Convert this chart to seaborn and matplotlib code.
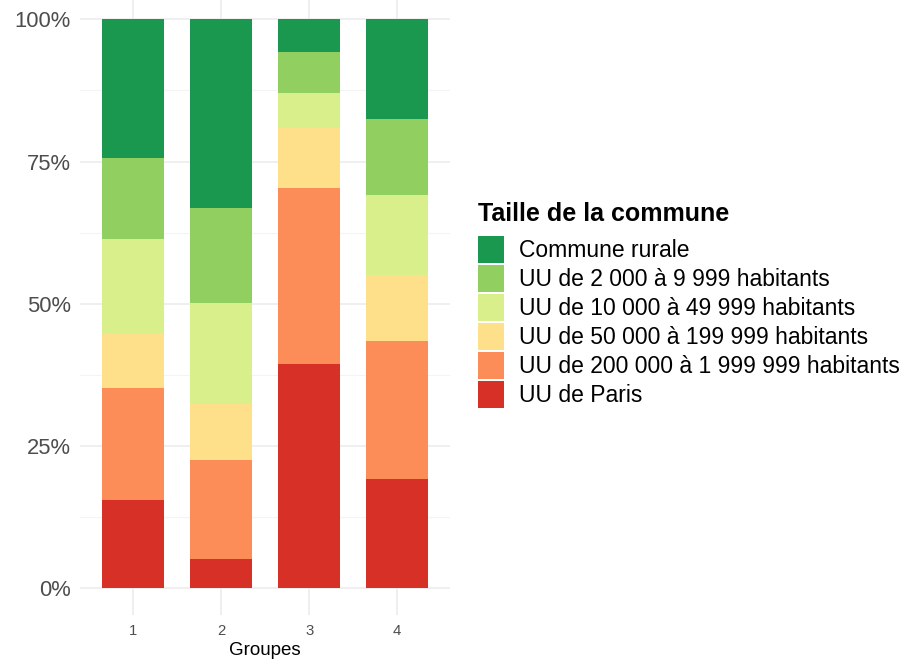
import matplotlib
matplotlib.use("Agg")
import matplotlib.pyplot as plt
from matplotlib.patches import Patch
from matplotlib.ticker import FixedLocator, PercentFormatter
import numpy as np
import pandas as pd
import seaborn as sns

# Share of each commune size, per group (percent)
groupes = [1, 2, 3, 4]
tailles = [
    "Commune rurale",
    "UU de 2 000 à 9 999 habitants",
    "UU de 10 000 à 49 999 habitants",
    "UU de 50 000 à 199 999 habitants",
    "UU de 200 000 à 1 999 999 habitants",
    "UU de Paris",
]
commune_rurale = [24.3, 33.1, 5.8, 17.5]
uu_2000 = [14.4, 16.7, 7.2, 13.3]
uu_10000 = [16.6, 17.8, 6.1, 14.2]
uu_50000 = [9.5, 9.9, 10.6, 11.6]
uu_200000 = [19.7, 17.3, 30.9, 24.2]
uu_paris = [15.5, 5.2, 39.4, 19.2]
couleurs = ["#1A9850", "#91CF60", "#D9EF8B", "#FEE08B", "#FC8D59", "#D73027"]

series = [commune_rurale, uu_2000, uu_10000, uu_50000, uu_200000, uu_paris]
df = pd.DataFrame(
    [(g, t, v / 100) for t, vals in zip(tailles, series) for g, v in zip(groupes, vals)],
    columns=["groupe", "taille", "part"],
)

sns.set_theme(style="white")
plt.rcParams["font.family"] = ["Liberation Sans", "DejaVu Sans"]

fig = plt.figure(figsize=(9.04, 6.61), dpi=100)
W, H = 904, 661
ax = fig.add_axes([80.4 / W, 1 - 615 / H, (450 - 80.4) / W, 615 / H])

sns.histplot(
    data=df, x="groupe", hue="taille", weights="part",
    hue_order=tailles, palette=couleurs,
    multiple="stack", discrete=True, shrink=0.7,
    alpha=1, linewidth=0, legend=False, ax=ax,
)

ax.set_xlim(0.4, 4.6)
ax.set_ylim(-0.0473, 1.034)
ax.set_xticks(groupes)
ax.set_xticklabels([str(g) for g in groupes])
ax.yaxis.set_major_locator(FixedLocator([0, 0.25, 0.5, 0.75, 1.0]))
ax.yaxis.set_minor_locator(FixedLocator([0.125, 0.375, 0.625, 0.875]))
ax.yaxis.set_major_formatter(PercentFormatter(1.0, decimals=0))
ax.set_axisbelow(True)
ax.grid(which="major", axis="both", color="#EBEBEB", linewidth=1.1)
ax.grid(which="minor", axis="y", color="#F4F4F4", linewidth=0.8)
for s in ax.spines.values():
    s.set_visible(False)
ax.tick_params(axis="y", which="both", length=0, pad=7, labelsize=15.8, labelcolor="#4D4D4D")
ax.tick_params(axis="x", length=0, pad=6.5, labelsize=10.7, labelcolor="#4D4D4D")
ax.set_ylabel("")
ax.set_xlabel("Groupes", fontsize=13.5, color="black", labelpad=3)

handles = [Patch(facecolor=c, edgecolor="none") for c in couleurs]
fs = 16.5
fpx = fs * 100 / 72
leg = fig.legend(
    handles, tailles, loc="upper left",
    bbox_to_anchor=(478 / W, 1 - 202 / H),
    frameon=False, fontsize=fs,
    title="Taille de la commune",
    title_fontproperties={"weight": "bold", "size": 18},
    handlelength=26 / fpx, handleheight=1.42,
    labelspacing=0.094, handletextpad=15 / fpx,
    borderpad=0, borderaxespad=0, alignment="left",
)
# extra room between the legend title and its entries
leg._legend_box.sep = 7.5
leg.get_title().set_color("black")
for t in leg.get_texts():
    t.set_color("black")

fig.savefig("out.png", dpi=100)
